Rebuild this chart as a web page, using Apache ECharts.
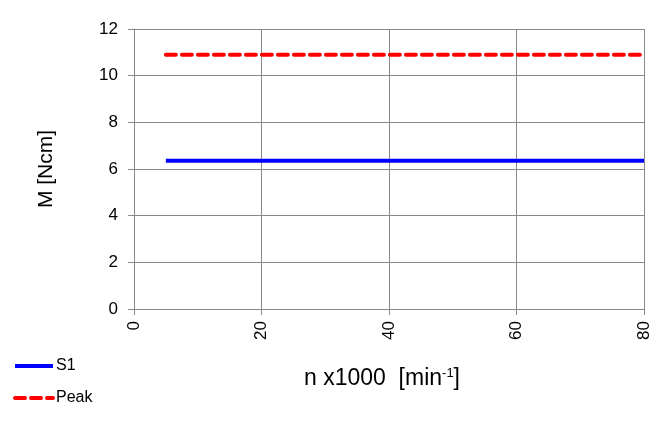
<!DOCTYPE html>
<html><head><meta charset="utf-8">
<script src="https://cdn.jsdelivr.net/npm/echarts@6/dist/echarts.min.js"></script>
<style>html,body{margin:0;padding:0;background:#fff}#c{width:667px;height:430px}</style>
</head><body><div id="c"></div>
<script>
var xS1 = [5, 80];
var yS1 = [6.35, 6.35];
var xPeak = [5, 80];
var yPeak = [10.9, 10.9];
var xTicks = [0, 20, 40, 60, 80];
var yTicks = [0, 2, 4, 6, 8, 10, 12];

var FF = '"Liberation Sans", Arial, sans-serif';
var chart = echarts.init(document.getElementById('c'));
chart.setOption({
  animation: false,
  textStyle: {fontFamily: FF},
  grid: {left: 134, right: 23, top: 29, bottom: 121, containLabel: false},
  legend: {
    orient: 'vertical', left: 8, top: 353, itemWidth: 38, itemHeight: 16, itemGap: 16,
    textStyle: {fontFamily: FF, fontSize: 16, color: '#000', padding: [0, 0, 0, -2]},
    itemStyle: {color: 'transparent', borderWidth: 0, opacity: 0},
    lineStyle: {width: 4},
    data: ['S1', 'Peak']
  },
  xAxis: {
    type: 'value', min: xTicks[0], max: xTicks[xTicks.length-1], interval: 20,
    name: '{a|n x1000  [min}{s|-1}{a|]}', nameLocation: 'middle', nameGap: 58,
    nameTextStyle: {padding: [0, 14, 0, 0], rich: {a: {fontFamily: FF, fontSize: 23, color: '#000'}, s: {fontFamily: FF, fontSize: 13, color: '#000', padding: [0, 0, 10, 0]}}},
    axisLine: {show: true, lineStyle: {color: '#888', width: 1}},
    axisTick: {show: true, length: 6, lineStyle: {color: '#888'}},
    splitLine: {show: true, lineStyle: {color: '#888', width: 1}},
    axisLabel: {rotate: 90, fontSize: 17, color: '#000', fontFamily: FF, margin: 12}
  },
  yAxis: {
    type: 'value', min: yTicks[0], max: yTicks[yTicks.length-1], interval: 2,
    name: 'M [Ncm]', nameLocation: 'middle', nameGap: 77,
    nameTextStyle: {fontSize: 21, color: '#000', fontFamily: FF},
    axisLine: {show: true, lineStyle: {color: '#888', width: 1}},
    axisTick: {show: true, length: 6, lineStyle: {color: '#888'}},
    splitLine: {show: true, lineStyle: {color: '#888', width: 1}},
    axisLabel: {fontSize: 17, color: '#000', fontFamily: FF, margin: 16}
  },
  series: [
    {name: 'S1', type: 'line', symbol: 'none', data: xS1.map(function(x,i){return [x, yS1[i]];}),
     lineStyle: {color: '#0000ff', width: 4}, itemStyle: {color: '#0000ff'}},
    {name: 'Peak', type: 'line', symbol: 'none', data: xPeak.map(function(x,i){return [x, yPeak[i]];}),
     lineStyle: {color: '#ff0000', width: 4, type: [10, 6], cap: 'round'}, itemStyle: {color: '#ff0000'}}
  ]
});
</script></body></html>
